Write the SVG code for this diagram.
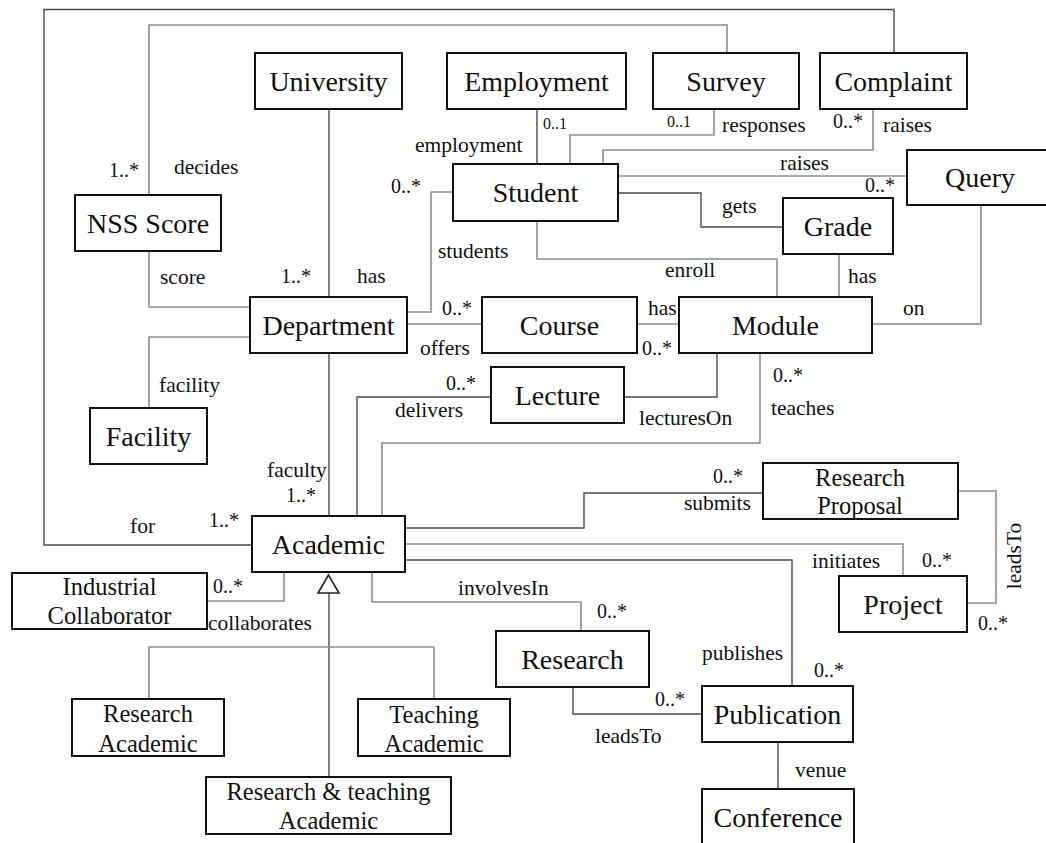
<svg xmlns="http://www.w3.org/2000/svg" width="1046" height="843" viewBox="0 0 1046 843">
  <style>
    text { font-family: 'Liberation Serif', Tinos, 'Times New Roman', 'DejaVu Serif', serif; fill: #111; }
    .box { fill: #fff; stroke: #111; stroke-width: 2; }
    .nm { font-size: 28px; text-anchor: middle; }
    .nm2 { font-size: 24.5px; text-anchor: middle; }
    .lbl { font-size: 21.5px; }
    .mul { font-size: 20px; }
    .mus { font-size: 16px; }
    .dk { fill: none; stroke: #4a4a4a; stroke-width: 1.4; }
    .lt { fill: none; stroke: #8c8c8c; stroke-width: 1.6; }
  </style>

  <rect width="1046" height="843" fill="#fff"/>

  <!-- associations -->
  <g id="connectors">
    <path class="dk" d="M894,53 V9.5 H44 V545 H252"/>
    <path class="lt" d="M727,53 V25 H149 V195"/>
    <path class="dk" d="M329,109 V297"/>
    <path class="lt" d="M149,251 V307 H250"/>
    <path class="lt" d="M250,337 H149 V408"/>
    <path class="dk" d="M329,353 V516"/>
    <path class="dk" d="M537,109 V164"/>
    <path class="lt" d="M453,192 H431 V312 H407"/>
    <path class="lt" d="M570,164 V135 H714 V109"/>
    <path class="lt" d="M603,164 V150 H873 V109"/>
    <path class="lt" d="M618,176 H907"/>
    <path class="dk" d="M618,193 H701 V227 H783"/>
    <path class="lt" d="M537,221 V259 H777 V297"/>
    <path class="lt" d="M839,254 V297"/>
    <path class="lt" d="M981,205 V324 H872"/>
    <path class="lt" d="M407,324 H482"/>
    <path class="lt" d="M637,324 H679"/>
    <path class="dk" d="M357,516 V397 H491"/>
    <path class="dk" d="M624,397 H717 V353"/>
    <path class="lt" d="M382,516 V443 H760 V353"/>
    <path class="dk" d="M405,528 H584 V493 H763"/>
    <path class="lt" d="M405,544 H903 V576"/>
    <path class="dk" d="M405,560 H792 V686"/>
    <path class="lt" d="M958,491 H996 V603 H967"/>
    <path class="lt" d="M372,572 V602 H581 V631"/>
    <path class="lt" d="M284,572 V601 H207"/>
    <!-- generalisation of Academic -->
    <path class="dk" d="M329,593 V777"/>
    <path class="lt" d="M149,699 V647 H434 V699"/>
    <path d="M328.5,575 L318,593 H339 Z" fill="#fff" stroke="#222" stroke-width="1.6"/>
    <path class="dk" d="M573,687 V714 H702"/>
    <path class="dk" d="M778,742 V789"/>
  </g>

  <!-- association labels and multiplicities -->
  <g id="labels">
    <text class="mul" x="109" y="177">1..*</text>
    <text class="lbl" x="174" y="174">decides</text>
    <text class="lbl" x="160" y="284">score</text>
    <text class="mul" x="281" y="283">1..*</text>
    <text class="lbl" x="357" y="283">has</text>
    <text class="lbl" x="415" y="152">employment</text>
    <text class="mus" x="543" y="129">0..1</text>
    <text class="mul" x="391" y="193">0..*</text>
    <text class="lbl" x="438" y="258">students</text>
    <text class="mus" x="667" y="127">0..1</text>
    <text class="lbl" x="722" y="132">responses</text>
    <text class="mul" x="833" y="128">0..*</text>
    <text class="lbl" x="883" y="132">raises</text>
    <text class="lbl" x="780" y="170">raises</text>
    <text class="mul" x="865" y="192">0..*</text>
    <text class="lbl" x="722" y="213">gets</text>
    <text class="lbl" x="665" y="277">enroll</text>
    <text class="lbl" x="848" y="283">has</text>
    <text class="lbl" x="903" y="315">on</text>
    <text class="lbl" x="159" y="392">facility</text>
    <text class="lbl" x="267" y="477">faculty</text>
    <text class="mul" x="286" y="502">1..*</text>
    <text class="lbl" x="130" y="533">for</text>
    <text class="mul" x="209" y="527">1..*</text>
    <text class="mul" x="442" y="315">0..*</text>
    <text class="lbl" x="420" y="355">offers</text>
    <text class="lbl" x="648" y="315">has</text>
    <text class="mul" x="642" y="355">0..*</text>
    <text class="mul" x="446" y="390">0..*</text>
    <text class="lbl" x="395" y="417">delivers</text>
    <text class="lbl" x="639" y="425">lecturesOn</text>
    <text class="mul" x="773" y="382">0..*</text>
    <text class="lbl" x="771" y="415">teaches</text>
    <text class="mul" x="713" y="483">0..*</text>
    <text class="lbl" x="684" y="510">submits</text>
    <text class="lbl" x="812" y="568">initiates</text>
    <text class="mul" x="922" y="567">0..*</text>
    <text class="lbl" transform="translate(1021,556) rotate(-90)" text-anchor="middle">leadsTo</text>
    <text class="mul" x="978" y="630">0..*</text>
    <text class="lbl" x="458" y="595">involvesIn</text>
    <text class="mul" x="597" y="618">0..*</text>
    <text class="mul" x="213" y="593">0..*</text>
    <text class="lbl" x="208" y="630">collaborates</text>
    <text class="mul" x="655" y="706">0..*</text>
    <text class="lbl" x="595" y="743">leadsTo</text>
    <text class="lbl" x="702" y="660">publishes</text>
    <text class="mul" x="814" y="677">0..*</text>
    <text class="lbl" x="795" y="777">venue</text>
  </g>

  <!-- classes -->
  <g id="university"><rect class="box" x="255" y="53" width="147" height="56"/><text class="nm" x="328.5" y="91">University</text></g>
  <g id="employment"><rect class="box" x="447" y="53" width="179" height="56"/><text class="nm" x="536.5" y="91">Employment</text></g>
  <g id="survey"><rect class="box" x="653" y="53" width="146" height="56"/><text class="nm" x="726" y="91">Survey</text></g>
  <g id="complaint"><rect class="box" x="820" y="53" width="147" height="56"/><text class="nm" x="893.5" y="91">Complaint</text></g>
  <g id="nss-score"><rect class="box" x="75" y="195" width="146" height="56"/><text class="nm" x="148" y="233">NSS Score</text></g>
  <g id="student"><rect class="box" x="453" y="164" width="165" height="57"/><text class="nm" x="535.5" y="202">Student</text></g>
  <g id="query"><rect class="box" x="907" y="150" width="146" height="55"/><text class="nm" x="980" y="187">Query</text></g>
  <g id="grade"><rect class="box" x="783" y="198" width="110" height="56"/><text class="nm" x="838" y="236">Grade</text></g>
  <g id="department"><rect class="box" x="250" y="297" width="157" height="56"/><text class="nm" x="328.5" y="335">Department</text></g>
  <g id="course"><rect class="box" x="482" y="297" width="155" height="56"/><text class="nm" x="559.5" y="335">Course</text></g>
  <g id="module"><rect class="box" x="679" y="297" width="193" height="56"/><text class="nm" x="775.5" y="335">Module</text></g>
  <g id="lecture"><rect class="box" x="491" y="367" width="133" height="56"/><text class="nm" x="557.5" y="405">Lecture</text></g>
  <g id="facility"><rect class="box" x="90" y="408" width="117" height="56"/><text class="nm" x="148.5" y="446">Facility</text></g>
  <g id="research-proposal"><rect class="box" x="763" y="463" width="195" height="56"/><text class="nm2" x="860" y="486">Research</text><text class="nm2" x="860" y="514">Proposal</text></g>
  <g id="academic"><rect class="box" x="252" y="516" width="153" height="56"/><text class="nm" x="328.5" y="554">Academic</text></g>
  <g id="industrial-collaborator"><rect class="box" x="12" y="573" width="195" height="56"/><text class="nm2" x="109.5" y="595">Industrial</text><text class="nm2" x="109.5" y="624">Collaborator</text></g>
  <g id="project"><rect class="box" x="839" y="576" width="128" height="56"/><text class="nm" x="903" y="614">Project</text></g>
  <g id="research"><rect class="box" x="496" y="631" width="153" height="56"/><text class="nm" x="572.5" y="669">Research</text></g>
  <g id="research-academic"><rect class="box" x="72" y="699" width="152" height="57"/><text class="nm2" x="148" y="722">Research</text><text class="nm2" x="148" y="752">Academic</text></g>
  <g id="teaching-academic"><rect class="box" x="358" y="699" width="152" height="57"/><text class="nm2" x="434" y="723">Teaching</text><text class="nm2" x="434" y="752">Academic</text></g>
  <g id="publication"><rect class="box" x="702" y="686" width="151" height="56"/><text class="nm" x="777.5" y="724">Publication</text></g>
  <g id="research-teaching-academic"><rect class="box" x="206" y="777" width="245" height="57"/><text class="nm2" x="328.5" y="800">Research &amp; teaching</text><text class="nm2" x="328.5" y="829">Academic</text></g>
  <g id="conference"><rect class="box" x="702" y="789" width="152" height="62"/><text class="nm" x="778" y="827">Conference</text></g>
</svg>
